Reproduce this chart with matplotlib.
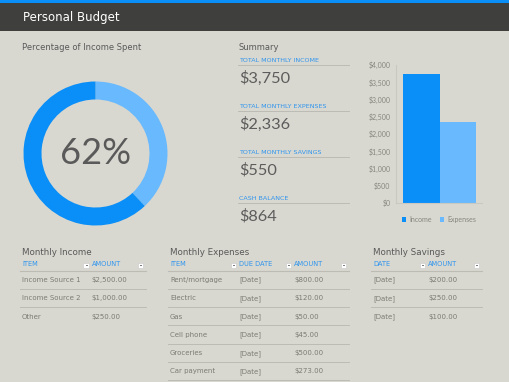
import matplotlib.pyplot as plt
from matplotlib.patches import Rectangle

# data
pct_spent = 62
summary_labels = ['TOTAL MONTHLY INCOME', 'TOTAL MONTHLY EXPENSES', 'TOTAL MONTHLY SAVINGS', 'CASH BALANCE']
summary_values = ['$3,750', '$2,336', '$550', '$864']
bar_labels = ['Income', 'Expenses']
bar_values = [3750, 2336]
y_ticks = [0, 500, 1000, 1500, 2000, 2500, 3000, 3500, 4000]

income_items = ['Income Source 1', 'Income Source 2', 'Other']
income_amounts = ['$2,500.00', '$1,000.00', '$250.00']
expense_items = ['Rent/mortgage', 'Electric', 'Gas', 'Cell phone', 'Groceries', 'Car payment']
expense_dates = ['[Date]'] * 6
expense_amounts = ['$800.00', '$120.00', '$50.00', '$45.00', '$500.00', '$273.00']
saving_dates = ['[Date]'] * 3
saving_amounts = ['$200.00', '$250.00', '$100.00']

BG = '#d9d8d0'
DARK = '#0a8ef7'
LIGHT = '#68b9fd'
HEAD = '#2f95ee'
GREY = '#7b7b75'
TITLE = '#59595a'
LINE = '#bcbcb4'

W, H = 510, 382
fig = plt.figure(figsize=(W / 100, H / 100), dpi=100, facecolor=BG)

# pixel-coordinate layer for header, text and tables
bg = fig.add_axes([0, 0, 1, 1])
bg.set_xlim(0, W)
bg.set_ylim(H, 0)
bg.axis('off')
bg.add_patch(Rectangle((0, 0), W, 3, color=DARK, lw=0))
bg.add_patch(Rectangle((0, 3), W, 28, color='#3f3f3d', lw=0))
bg.text(23, 17, 'Personal Budget', color='white', fontsize=8.5, va='center', family='DejaVu Sans')

bg.text(22, 47, 'Percentage of Income Spent', color=TITLE, fontsize=6, va='center')
bg.text(239, 47, 'Summary', color=TITLE, fontsize=6, va='center')

for i, (lab, val) in enumerate(zip(summary_labels, summary_values)):
    y0 = 60.5 + i * 46
    bg.text(239, y0, lab, color=HEAD, fontsize=4.6, va='center')
    bg.plot([238, 349], [y0 + 4, y0 + 4], color=LINE, lw=0.7)
    bg.text(239, y0 + 18, val, color='#5c5c5c', fontsize=11.8, va='center', family='Lato')


def dropdown(x, y):
    bg.add_patch(Rectangle((x, y - 2.5), 5.5, 5.5, facecolor='white', edgecolor='#c8c8c8', lw=0.4))
    bg.plot([x + 2.2, x + 3.3], [y + 0.3, y + 0.3], color='#555555', lw=0.6)


def table(title, x0, x1, cols, heads, rows, lines_after_last):
    bg.text(x0 + 2, 252.5, title, color=TITLE, fontsize=6.3, va='center')
    for cx, h, nx in zip(cols, heads, cols[1:] + [x1]):
        bg.text(cx, 264, h, color=HEAD, fontsize=4.8, va='center')
        dropdown(nx - 8, 265)
    bg.plot([x0, x1], [270.5, 270.5], color=LINE, lw=0.8)
    n = len(rows[0])
    for r in range(n):
        y = 280 + r * 18.3
        for cx, col in zip(cols, rows):
            bg.text(cx, y, col[r], color=GREY, fontsize=5, va='center')
        if r < n - 1 or lines_after_last:
            bg.plot([x0, x1], [y + 8.7, y + 8.7], color=LINE, lw=0.7)


table('Monthly Income', 20, 146, [22, 91.5], ['ITEM', 'AMOUNT'],
      [income_items, income_amounts], False)
table('Monthly Expenses', 168, 349, [170, 239, 294], ['ITEM', 'DUE DATE', 'AMOUNT'],
      [expense_items, expense_dates, expense_amounts], True)
table('Monthly Savings', 371, 482, [373, 428], ['DATE', 'AMOUNT'],
      [saving_dates, saving_amounts], False)

# donut
cx, cy, r = 95.5, 153.5, 72
dax = fig.add_axes([(cx - r) / W, 1 - (cy + r) / H, 2 * r / W, 2 * r / H])
dax.pie([100 - pct_spent, pct_spent], colors=[LIGHT, DARK], startangle=90, counterclock=False,
        wedgeprops=dict(width=0.25, linewidth=0))
dax.set_xlim(-1, 1)
dax.set_ylim(-1, 1)
dax.text(0, 0, f'{pct_spent}%', ha='center', va='center', fontsize=26, color='#5a5a5a',
         family='Lato')

# bar chart
bax = fig.add_axes([396 / W, 1 - 203 / H, 86 / W, 138 / H])
bax.set_facecolor('none')
bars = bax.bar([0, 1], bar_values, width=1, color=[DARK, LIGHT], label=bar_labels)
bax.set_xlim(-0.692, 1.664)
bax.set_ylim(0, 4000)
bax.set_yticks(y_ticks)
bax.set_yticklabels([f'${v:,}' for v in y_ticks], fontsize=5, color='#85857f', family='Lato')
bax.tick_params(length=0, pad=4)
bax.set_xticks([])
for s in ['top', 'right']:
    bax.spines[s].set_visible(False)
for s in ['left', 'bottom']:
    bax.spines[s].set_color('#c9c9c1')
    bax.spines[s].set_linewidth(0.8)
bax.legend(bars, bar_labels, loc='upper center', bbox_to_anchor=(0.5, -0.05), ncol=2, frameon=False,
           handlelength=0.6, handleheight=0.6, columnspacing=1.2, handletextpad=0.4,
           labelcolor='#85857f', prop={'family': 'Lato', 'size': 5})

fig.savefig('out.png', dpi=100, facecolor=BG)
